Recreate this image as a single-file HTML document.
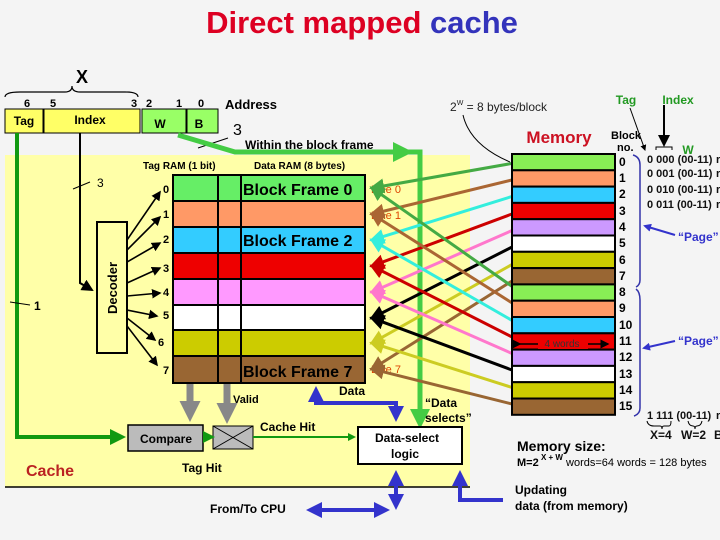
<!DOCTYPE html>
<html><head><meta charset="utf-8"><style>
html,body{margin:0;padding:0;background:#f4f4f4;}
svg{display:block;font-family:"Liberation Sans",sans-serif;}
</style></head><body>
<svg width="720" height="540" viewBox="0 0 720 540" xmlns="http://www.w3.org/2000/svg">
<defs>
<marker id="mk" markerWidth="6" markerHeight="6" refX="5" refY="3" orient="auto" markerUnits="strokeWidth"><path d="M0,0 L6,3 L0,6 z" fill="#000"/></marker>
<marker id="m0" markerWidth="5" markerHeight="5" refX="4" refY="2.5" orient="auto" markerUnits="strokeWidth"><path d="M0,0 L5,2.5 L0,5 z" fill="#44aa44"/></marker>
<marker id="m1" markerWidth="5" markerHeight="5" refX="4" refY="2.5" orient="auto" markerUnits="strokeWidth"><path d="M0,0 L5,2.5 L0,5 z" fill="#aa6633"/></marker>
<marker id="m2" markerWidth="5" markerHeight="5" refX="4" refY="2.5" orient="auto" markerUnits="strokeWidth"><path d="M0,0 L5,2.5 L0,5 z" fill="#33eedd"/></marker>
<marker id="m3" markerWidth="5" markerHeight="5" refX="4" refY="2.5" orient="auto" markerUnits="strokeWidth"><path d="M0,0 L5,2.5 L0,5 z" fill="#cc0000"/></marker>
<marker id="m4" markerWidth="5" markerHeight="5" refX="4" refY="2.5" orient="auto" markerUnits="strokeWidth"><path d="M0,0 L5,2.5 L0,5 z" fill="#ff77cc"/></marker>
<marker id="m5" markerWidth="5" markerHeight="5" refX="4" refY="2.5" orient="auto" markerUnits="strokeWidth"><path d="M0,0 L5,2.5 L0,5 z" fill="#000"/></marker>
<marker id="m6" markerWidth="5" markerHeight="5" refX="4" refY="2.5" orient="auto" markerUnits="strokeWidth"><path d="M0,0 L5,2.5 L0,5 z" fill="#cccc22"/></marker>
<marker id="m7" markerWidth="5" markerHeight="5" refX="4" refY="2.5" orient="auto" markerUnits="strokeWidth"><path d="M0,0 L5,2.5 L0,5 z" fill="#996633"/></marker>
<marker id="mg" markerWidth="4" markerHeight="4" refX="3" refY="2" orient="auto" markerUnits="strokeWidth"><path d="M0,0 L4,2 L0,4 z" fill="#44cc44"/></marker>
<marker id="mdg" markerWidth="4" markerHeight="4" refX="3" refY="2" orient="auto" markerUnits="strokeWidth"><path d="M0,0 L4,2 L0,4 z" fill="#119911"/></marker>
<marker id="mb" markerWidth="4" markerHeight="4" refX="3" refY="2" orient="auto" markerUnits="strokeWidth"><path d="M0,0 L4,2 L0,4 z" fill="#3333cc"/></marker>
<marker id="mgr" markerWidth="3" markerHeight="3" refX="2" refY="1.5" orient="auto" markerUnits="strokeWidth"><path d="M0,0 L3,1.5 L0,3 z" fill="#888"/></marker>
</defs>

<!-- title -->
<text x="362" y="33" text-anchor="middle" font-size="31" font-weight="bold"><tspan fill="#dd0022">Direct mapped </tspan><tspan fill="#3333bb">cache</tspan></text>

<!-- yellow cache area -->
<rect x="5" y="155" width="465" height="332" fill="#ffffa8"/>
<line x1="5" y1="487" x2="470" y2="487" stroke="#000" stroke-width="1.5"/>

<!-- address -->
<path d="M5,97 Q5,92 20,92 L65,92 Q72,92 72,86 Q72,92 80,92 L125,92 Q138,92 138,97" fill="none" stroke="#000" stroke-width="1.2"/>
<text x="82" y="83" text-anchor="middle" font-size="18" font-weight="bold">X</text>
<g font-size="11" font-weight="bold">
<text x="27" y="107" text-anchor="middle">6</text><text x="53" y="107" text-anchor="middle">5</text>
<text x="134" y="107" text-anchor="middle">3</text><text x="149" y="107" text-anchor="middle">2</text>
<text x="179" y="107" text-anchor="middle">1</text><text x="201" y="107" text-anchor="middle">0</text>
<text x="225" y="109" font-size="13">Address</text>
</g>
<rect x="5" y="109" width="38" height="24" fill="#ffff66" stroke="#000"/>
<rect x="44" y="109" width="96" height="24" fill="#ffff66" stroke="#000"/>
<rect x="142" y="109" width="44" height="24" fill="#99ff66" stroke="#000"/>
<rect x="187" y="109" width="31" height="24" fill="#99ff66" stroke="#000"/>
<g font-size="12" font-weight="bold" text-anchor="middle">
<text x="24" y="125">Tag</text><text x="90" y="124">Index</text><text x="160" y="128">W</text><text x="199" y="128">B</text>
</g>
<text x="233" y="135" font-size="16">3</text>
<line x1="198" y1="148" x2="228" y2="138" stroke="#000"/>
<text x="245" y="149" font-size="12" font-weight="bold">Within the block frame</text>
<text x="143" y="169" font-size="10" font-weight="bold">Tag RAM (1 bit)</text>
<text x="254" y="169" font-size="10" font-weight="bold">Data RAM (8 bytes)</text>

<!-- green W arrow and data selects -->
<polyline points="178,135 235,152 420,152 420,424" fill="none" stroke="#44cc44" stroke-width="5" marker-end="url(#mg)"/>
<line x1="380" y1="152" x2="408" y2="152" stroke="#44cc44" stroke-width="5" marker-end="url(#mg)"/>
<text x="425" y="407" font-size="12" font-weight="bold">“Data</text>
<text x="425" y="422" font-size="12" font-weight="bold">selects”</text>

<!-- tag line -->
<polyline points="17,133 17,437 122,437" fill="none" stroke="#119911" stroke-width="4" marker-end="url(#mdg)"/>
<line x1="10" y1="302" x2="30" y2="305" stroke="#000"/>
<text x="34" y="310" font-size="12" font-weight="bold">1</text>
<!-- index line -->
<polyline points="80,133 80,283 92,290" fill="none" stroke="#000" stroke-width="2" marker-end="url(#mk)"/>
<line x1="73" y1="189" x2="90" y2="182" stroke="#000"/>
<text x="97" y="187" font-size="12">3</text>

<!-- decoder -->
<rect x="97" y="222" width="30" height="131" fill="#ffffa8" stroke="#000" stroke-width="2"/>
<text transform="translate(117,288) rotate(-90)" text-anchor="middle" font-size="13" font-weight="bold">Decoder</text>
<g stroke="#000" stroke-width="1.6" fill="none">
<line x1="127" y1="240" x2="160" y2="192" marker-end="url(#mk)"/>
<line x1="127" y1="250" x2="160" y2="217" marker-end="url(#mk)"/>
<line x1="127" y1="262" x2="160" y2="243" marker-end="url(#mk)"/>
<line x1="127" y1="283" x2="160" y2="268" marker-end="url(#mk)"/>
<line x1="127" y1="296" x2="160" y2="293" marker-end="url(#mk)"/>
<line x1="127" y1="310" x2="157" y2="316" marker-end="url(#mk)"/>
<line x1="127" y1="318" x2="155" y2="340" marker-end="url(#mk)"/>
<line x1="127" y1="326" x2="157" y2="365" marker-end="url(#mk)"/>
</g>
<g font-size="11" font-weight="bold">
<text x="163" y="193">0</text><text x="163" y="218">1</text><text x="163" y="243">2</text><text x="163" y="272">3</text>
<text x="163" y="296">4</text><text x="163" y="319">5</text><text x="158" y="346">6</text><text x="163" y="374">7</text>
</g>

<!-- cache table -->
<g stroke="#000" stroke-width="2">
<rect x="173" y="175" width="192" height="26" fill="#66ee66"/>
<rect x="173" y="201" width="192" height="26" fill="#ff9966"/>
<rect x="173" y="227" width="192" height="26" fill="#33ccff"/>
<rect x="173" y="253" width="192" height="26" fill="#ee0000"/>
<rect x="173" y="279" width="192" height="26" fill="#ff99ff"/>
<rect x="173" y="305" width="192" height="25" fill="#ffffff"/>
<rect x="173" y="330" width="192" height="26" fill="#cccc00"/>
<rect x="173" y="356" width="192" height="27" fill="#996633"/>
<line x1="218" y1="175" x2="218" y2="383"/>
<line x1="241" y1="175" x2="241" y2="383"/>
</g>
<g font-size="16" font-weight="bold">
<text x="243" y="195">Block Frame 0</text>
<text x="243" y="246">Block Frame 2</text>
<text x="243" y="377">Block Frame 7</text>
</g>
<g font-size="11" fill="#dd4400">
<text x="371" y="193">Line 0</text><text x="371" y="219">Line 1</text><text x="371" y="373">Line 7</text>
</g>

<!-- memory -> cache lines -->
<g stroke-width="3" fill="none">
<line x1="520" y1="162" x2="372" y2="188" stroke="#44aa44" marker-end="url(#m0)"/>
<line x1="520" y1="178" x2="372" y2="214" stroke="#aa6633" marker-end="url(#m1)"/>
<line x1="520" y1="194" x2="372" y2="240" stroke="#33eedd" marker-end="url(#m2)"/>
<line x1="520" y1="211" x2="372" y2="266" stroke="#cc0000" marker-end="url(#m3)"/>
<line x1="520" y1="227" x2="372" y2="292" stroke="#ff77cc" marker-end="url(#m4)"/>
<line x1="520" y1="243" x2="372" y2="318" stroke="#000" marker-end="url(#m5)"/>
<line x1="520" y1="260" x2="372" y2="343" stroke="#cccc22" marker-end="url(#m6)"/>
<line x1="520" y1="276" x2="372" y2="369" stroke="#996633" marker-end="url(#m7)"/>
<line x1="520" y1="292" x2="372" y2="188" stroke="#44aa44" marker-end="url(#m0)"/>
<line x1="520" y1="308" x2="372" y2="214" stroke="#aa6633" marker-end="url(#m1)"/>
<line x1="520" y1="325" x2="372" y2="240" stroke="#33eedd" marker-end="url(#m2)"/>
<line x1="520" y1="341" x2="372" y2="266" stroke="#cc0000" marker-end="url(#m3)"/>
<line x1="520" y1="357" x2="372" y2="292" stroke="#ff77cc" marker-end="url(#m4)"/>
<line x1="520" y1="373" x2="372" y2="318" stroke="#000" marker-end="url(#m5)"/>
<line x1="520" y1="390" x2="372" y2="343" stroke="#cccc22" marker-end="url(#m6)"/>
<line x1="520" y1="406" x2="372" y2="369" stroke="#996633" marker-end="url(#m7)"/>
</g>

<!-- memory -->
<text x="559" y="143" text-anchor="middle" font-size="17" font-weight="bold" fill="#cc1122">Memory</text>
<text x="450" y="111" font-size="12" fill="#222">2<tspan font-size="7" dy="-6">W</tspan><tspan dy="6"> = 8 bytes/block</tspan></text>
<path d="M463,115 Q470,145 510,162" fill="none" stroke="#000"/>
<g stroke="#000" stroke-width="2">
<rect x="512" y="154" width="103" height="16.3" fill="#88ee55"/>
<rect x="512" y="170.3" width="103" height="16.3" fill="#ff9966"/>
<rect x="512" y="186.6" width="103" height="16.3" fill="#33ccff"/>
<rect x="512" y="202.9" width="103" height="16.3" fill="#ee0000"/>
<rect x="512" y="219.2" width="103" height="16.3" fill="#cc99ff"/>
<rect x="512" y="235.5" width="103" height="16.3" fill="#ffffff"/>
<rect x="512" y="251.8" width="103" height="16.3" fill="#cccc00"/>
<rect x="512" y="268.1" width="103" height="16.3" fill="#996633"/>
<rect x="512" y="284.4" width="103" height="16.3" fill="#88ee55"/>
<rect x="512" y="300.7" width="103" height="16.3" fill="#ff9966"/>
<rect x="512" y="317" width="103" height="16.3" fill="#33ccff"/>
<rect x="512" y="333.3" width="103" height="16.3" fill="#ee0000"/>
<rect x="512" y="349.6" width="103" height="16.3" fill="#cc99ff"/>
<rect x="512" y="365.9" width="103" height="16.3" fill="#ffffff"/>
<rect x="512" y="382.2" width="103" height="16.3" fill="#cccc00"/>
<rect x="512" y="398.5" width="103" height="16.3" fill="#996633"/>
</g>
<line x1="520" y1="344" x2="608" y2="344" stroke="#000" stroke-width="1.5" marker-start="url(#mk)" marker-end="url(#mk)"/>
<rect x="538" y="338" width="50" height="11" fill="#ee0000"/>
<text x="562" y="347" text-anchor="middle" font-size="10" fill="#333">4 words</text>
<g font-size="12" font-weight="bold">
<text x="619" y="166">0</text><text x="619" y="182">1</text><text x="619" y="198">2</text><text x="619" y="215">3</text>
<text x="619" y="231">4</text><text x="619" y="247">5</text><text x="619" y="264">6</text><text x="619" y="280">7</text>
<text x="619" y="296">8</text><text x="619" y="312">9</text><text x="619" y="329">10</text><text x="619" y="345">11</text>
<text x="619" y="361">12</text><text x="619" y="378">13</text><text x="619" y="394">14</text><text x="619" y="410">15</text>
</g>
<text x="611" y="139" font-size="11" font-weight="bold">Block</text>
<text x="617" y="151" font-size="11" font-weight="bold">no.</text>
<!-- page braces -->
<path d="M633,155 Q640,157 640,165 L640,280 Q640,285 636,287" fill="none" stroke="#3333aa" stroke-width="1.5"/>
<path d="M636,289 Q640,292 640,300 L640,408 Q640,414 634,416" fill="none" stroke="#3333aa" stroke-width="1.5"/>
<line x1="675" y1="235" x2="645" y2="226" stroke="#3333cc" stroke-width="2" marker-end="url(#mb)"/>
<line x1="675" y1="341" x2="644" y2="348" stroke="#3333cc" stroke-width="2" marker-end="url(#mb)"/>
<text x="678" y="241" font-size="12" font-weight="bold" fill="#3333cc">“Page”</text>
<text x="678" y="345" font-size="12" font-weight="bold" fill="#3333cc">“Page”</text>

<!-- right column -->
<text x="626" y="104" text-anchor="middle" font-size="12" font-weight="bold" fill="#229922">Tag</text>
<text x="678" y="104" text-anchor="middle" font-size="12" font-weight="bold" fill="#229922">Index</text>
<text x="688" y="154" text-anchor="middle" font-size="12" font-weight="bold" fill="#229922">W</text>
<line x1="630" y1="108" x2="645" y2="150" stroke="#000" marker-end="url(#mk)"/>
<line x1="664" y1="105" x2="664" y2="145" stroke="#000" stroke-width="2" marker-end="url(#mk)"/>
<path d="M656,150 L656,147 L672,147 L672,150" fill="none" stroke="#000"/>
<g font-size="11" font-weight="bold" fill="#111">
<text x="647" y="163">0 000 (00-11)</text><text x="716" y="163">r</text>
<text x="647" y="177">0 001 (00-11)</text><text x="716" y="177">r</text>
<text x="647" y="193">0 010 (00-11)</text><text x="716" y="193">r</text>
<text x="647" y="208">0 011 (00-11)</text><text x="716" y="208">r</text>
<text x="647" y="419">1 111 (00-11)</text><text x="716" y="419">r</text>
<text x="650" y="439" font-size="12">X=4</text><text x="681" y="439" font-size="12">W=2</text><text x="714" y="439" font-size="12">B</text>
</g>
<path d="M647,421 Q648,426 654,426 L660,426 Q662,426 662,429 Q662,426 664,426 L669,426 Q671,426 671,421" fill="none" stroke="#000"/>
<path d="M688,421 Q689,426 693,426 Q695,426 695,429 Q695,426 697,426 Q701,426 702,421" fill="none" stroke="#000"/>
<text x="517" y="451" font-size="14" font-weight="bold">Memory size:</text>
<text x="517" y="466" font-size="11" font-weight="bold">M=2<tspan font-size="8" dy="-6"> X + W</tspan><tspan dy="6" font-weight="normal"> words=64 words = 128 bytes</tspan></text>

<!-- compare etc -->
<rect x="128" y="425" width="75" height="26" fill="#bbbbbb" stroke="#000" stroke-width="1.5"/>
<text x="166" y="443" text-anchor="middle" font-size="12" font-weight="bold">Compare</text>
<rect x="213" y="426" width="40" height="23" fill="#bbbbbb" stroke="#000"/>
<line x1="213" y1="426" x2="253" y2="449" stroke="#000"/><line x1="253" y1="426" x2="213" y2="449" stroke="#000"/>
<line x1="204" y1="437" x2="212" y2="437" stroke="#119911" stroke-width="3" marker-end="url(#mdg)"/>
<line x1="253" y1="437" x2="354" y2="437" stroke="#119911" stroke-width="2" marker-end="url(#mdg)"/>
<line x1="190" y1="384" x2="190" y2="415" stroke="#888" stroke-width="7" marker-end="url(#mgr)"/>
<line x1="227" y1="384" x2="227" y2="417" stroke="#888" stroke-width="7" marker-end="url(#mgr)"/>
<text x="233" y="403" font-size="11" font-weight="bold">Valid</text>
<text x="260" y="431" font-size="12" font-weight="bold">Cache Hit</text>
<text x="182" y="472" font-size="12" font-weight="bold">Tag Hit</text>
<text x="26" y="476" font-size="16" font-weight="bold" fill="#bb2222">Cache</text>

<!-- data select -->
<rect x="358" y="427" width="104" height="37" fill="#fff" stroke="#000" stroke-width="2"/>
<text x="407" y="442" text-anchor="middle" font-size="12" font-weight="bold">Data-select</text>
<text x="405" y="458" text-anchor="middle" font-size="12" font-weight="bold">logic</text>
<g stroke="#3333cc" stroke-width="4" fill="none">
<polyline points="316,392 316,403 396,403 396,418" marker-end="url(#mb)"/>
<line x1="316" y1="403" x2="316" y2="390" marker-end="url(#mb)"/>
<polyline points="503,500 460,500 460,474" marker-end="url(#mb)"/>
<line x1="396" y1="490" x2="396" y2="474" marker-end="url(#mb)"/>
<line x1="396" y1="490" x2="396" y2="506" marker-end="url(#mb)"/>
<line x1="310" y1="510" x2="386" y2="510" marker-end="url(#mb)"/>
<line x1="386" y1="510" x2="310" y2="510" marker-end="url(#mb)"/>
</g>
<text x="339" y="395" font-size="12" font-weight="bold">Data</text>
<text x="210" y="513" font-size="12" font-weight="bold">From/To CPU</text>
<text x="515" y="494" font-size="12" font-weight="bold">Updating</text>
<text x="515" y="510" font-size="12" font-weight="bold">data (from memory)</text>
</svg>
</body></html>
